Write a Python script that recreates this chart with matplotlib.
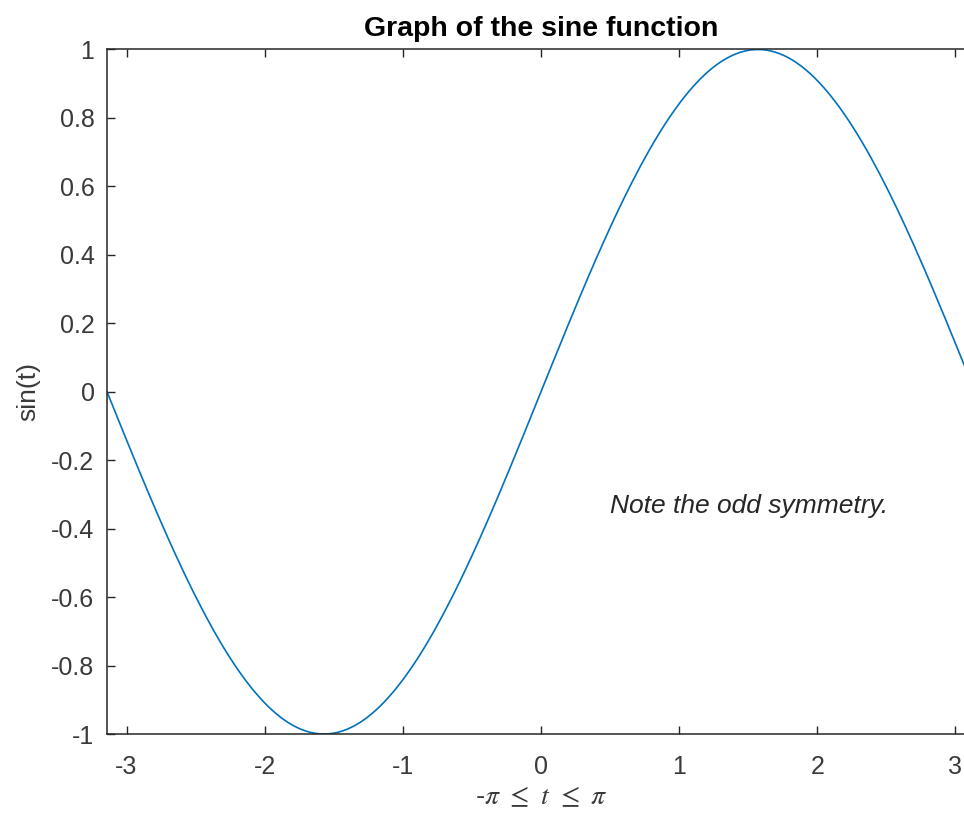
import numpy as np
import matplotlib
matplotlib.use("Agg")
import matplotlib.pyplot as plt

# Data: the sine function sampled on [-pi, pi] (step pi/100)
t = np.arange(-100, 101) * np.pi / 100
y = np.sin(t)

xticks = [-3, -2, -1, 0, 1, 2, 3]
yticks = [-1, -0.8, -0.6, -0.4, -0.2, 0, 0.2, 0.4, 0.6, 0.8, 1]
yticklabels = ["-1", "-0.8", "-0.6", "-0.4", "-0.2", "0", "0.2", "0.4", "0.6", "0.8", "1"]
xticklabels = ["-3", "-2", "-1", "0", "1", "2", "3"]

plt.rcParams['font.family'] = ['Liberation Sans', 'DejaVu Sans']
plt.rcParams['mathtext.fontset'] = 'stix'

W, H = 964, 821
fig = plt.figure(figsize=(W / 100, H / 100), dpi=100)
left, right, top, bottom = 107, 975, 49.5, 734
ax = fig.add_axes([left / W, (H - bottom) / H, (right - left) / W, (bottom - top) / H])

axc = '#262626'
lblc = '#3a3a3a'
ax.plot(t, y, color='#0072BD', lw=1.2)
ax.set_xlim(-np.pi, np.pi)
ax.set_ylim(-1, 1)
ax.set_xticks(xticks)
ax.set_xticklabels(xticklabels)
ax.set_yticks(yticks)
ax.set_yticklabels(yticklabels)
ax.tick_params(direction='in', length=6, width=1, colors=axc, labelcolor=lblc,
               labelsize=18, top=True, right=True)
ax.tick_params(axis='x', pad=15)
ax.tick_params(axis='y', pad=9)
for s in ax.spines.values():
    s.set_color(axc)
    s.set_linewidth(1.1)

ax.set_title('Graph of the sine function', fontsize=20.5, fontweight='bold',
             color='black', pad=10)
ax.set_ylabel('sin(t)', fontsize=19, color=lblc, labelpad=8)
ax.set_xlabel(r'-$\pi$ $\leq$ $t$ $\leq$ $\pi$', fontsize=20, color=lblc, labelpad=4)
ax.text(0.5, -1/3, 'Note the odd symmetry.', fontsize=19, style='italic',
        color=axc, va='center', ha='left')

fig.savefig('out.png', dpi=100)
